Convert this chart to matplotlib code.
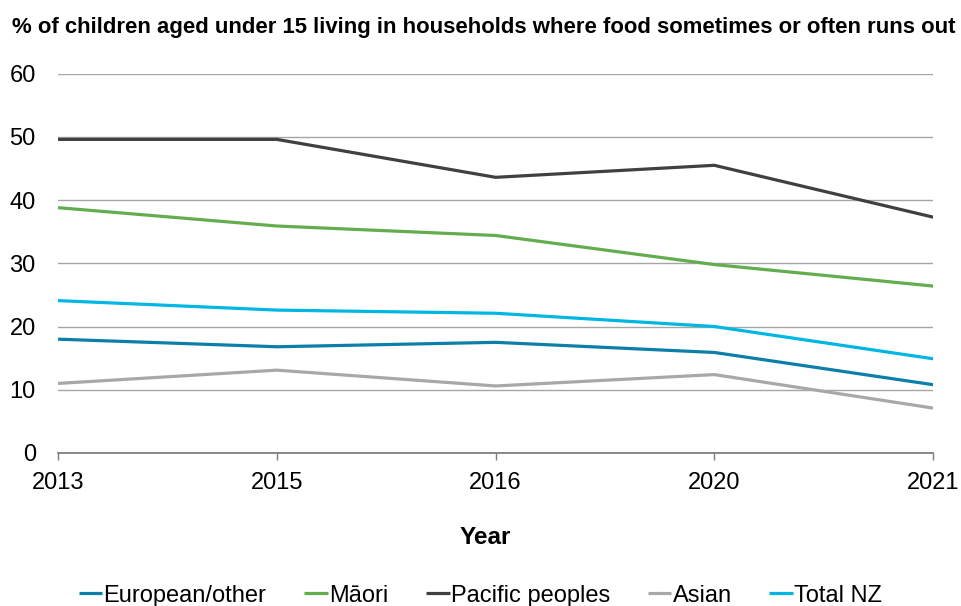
import matplotlib
matplotlib.use('Agg')
import matplotlib.pyplot as plt
import numpy as np

plt.rcParams['font.family'] = ['Liberation Sans', 'DejaVu Sans']

years = ['2013', '2015', '2016', '2020', '2021']
european = [18.0, 16.8, 17.5, 15.9, 10.8]
maori = [38.8, 35.9, 34.4, 29.8, 26.4]
pacific = [49.6, 49.6, 43.6, 45.5, 37.3]
asian = [11.0, 13.1, 10.6, 12.4, 7.1]
total_nz = [24.1, 22.6, 22.1, 20.0, 14.9]

series = [
    ('European/other', european, '#0b7fa8'),
    ('M\u0101ori', maori, '#63ad4f'),
    ('Pacific peoples', pacific, '#404040'),
    ('Asian', asian, '#a8a8a8'),
    ('Total NZ', total_nz, '#00b6e3'),
]

fig = plt.figure(figsize=(9.61, 6.06), dpi=100)
ax = fig.add_axes([0.0604, 0.2525, 0.9106, 0.626])

x = np.arange(len(years))
for name, vals, col in series:
    ax.plot(x, vals, color=col, lw=2.3, label=name, solid_capstyle='butt')

ax.set_xlim(0, len(years) - 1)
ax.set_ylim(0, 60)
ax.set_yticks(range(0, 61, 10))
ax.set_xticks(x)
ax.set_xticklabels(years)
ax.grid(axis='y', color='#a6a6a6', lw=1.0)
ax.set_axisbelow(True)
for s in ['top', 'right', 'left']:
    ax.spines[s].set_visible(False)
ax.spines['bottom'].set_color('#7f7f7f')
ax.spines['bottom'].set_linewidth(1.3)
ax.tick_params(axis='y', length=0, pad=16, labelsize=17)
ax.tick_params(axis='x', length=5, width=1, color='#7f7f7f', pad=9, labelsize=17)

ax.set_xlabel('Year', fontsize=17.5, fontweight='bold')
ax.xaxis.label.set_va('center')
ax.xaxis.set_label_coords(0.4886, -0.224)

fig.text(0.0125, 0.954, '% of children aged under 15 living in households where food sometimes or often runs out',
         fontsize=15.9, fontweight='bold', va='center', ha='left')

ax.legend(loc='center', bbox_to_anchor=(0.5, 0.017), bbox_transform=fig.transFigure,
          ncol=5, frameon=False, fontsize=17, handlelength=1.0, handletextpad=0.05,
          columnspacing=1.6)

fig.savefig('out.png', dpi=100)
